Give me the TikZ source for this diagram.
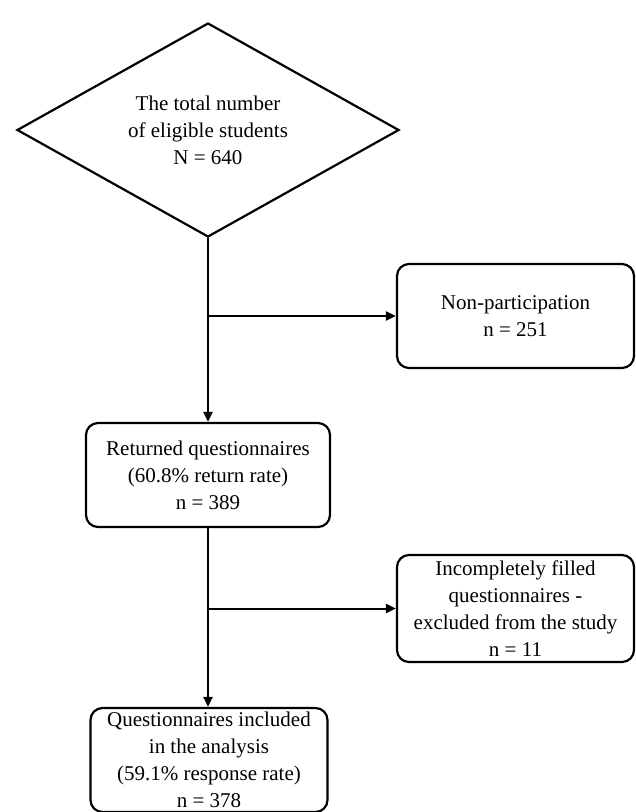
\documentclass[tikz,border=0pt]{standalone}
\usepackage{fontspec}
\setmainfont{Liberation Serif}
\usetikzlibrary{arrows.meta, shapes.geometric, positioning}

\tikzset{
  flowbox/.style={draw, line width=2.2pt, rounded corners=12pt, align=center,
    inner sep=0pt, font=\fontsize{21}{27}\selectfont},
  flowarrow/.style={line width=2pt, -{Triangle[length=10pt,width=9pt]}}
}

\begin{document}
\begin{tikzpicture}[x=1pt, y=-1pt]
\useasboundingbox (0,0) rectangle (636,812);

% Start
\node[diamond, draw, line width=2.2pt, aspect=1.785, minimum width=382pt,
  minimum height=214pt, inner sep=0pt, align=center,
  font=\fontsize{21}{27}\selectfont] (total) at (208,130)
  {The total number\\of eligible students\\N = 640};

% Boxes
\node[flowbox, minimum width=237pt, minimum height=104pt] (nonpart) at (515.5,316)
  {Non-participation\\n = 251};
\node[flowbox, minimum width=244pt, minimum height=104pt] (returned) at (208,475)
  {Returned questionnaires\\(60.8\% return rate)\\n = 389};
\node[flowbox, minimum width=237pt, minimum height=107pt] (incomplete) at (515.5,608.5)
  {Incompletely filled\\questionnaires -\\excluded from the study\\n = 11};
\node[flowbox, minimum width=237pt, minimum height=104pt] (included) at (209,760)
  {Questionnaires included\\in the analysis\\(59.1\% response rate)\\n = 378};

% Connectors
\coordinate (split1) at (total.south |- nonpart.west);
\coordinate (split2) at (total.south |- incomplete.west);
\draw[flowarrow] (total.south) -- (total.south |- returned.north);
\draw[flowarrow] (split1) -- (nonpart.west);
\draw[flowarrow] (total.south |- returned.south) -- (total.south |- included.north);
\draw[flowarrow] (split2) -- (incomplete.west);
\end{tikzpicture}
\end{document}
